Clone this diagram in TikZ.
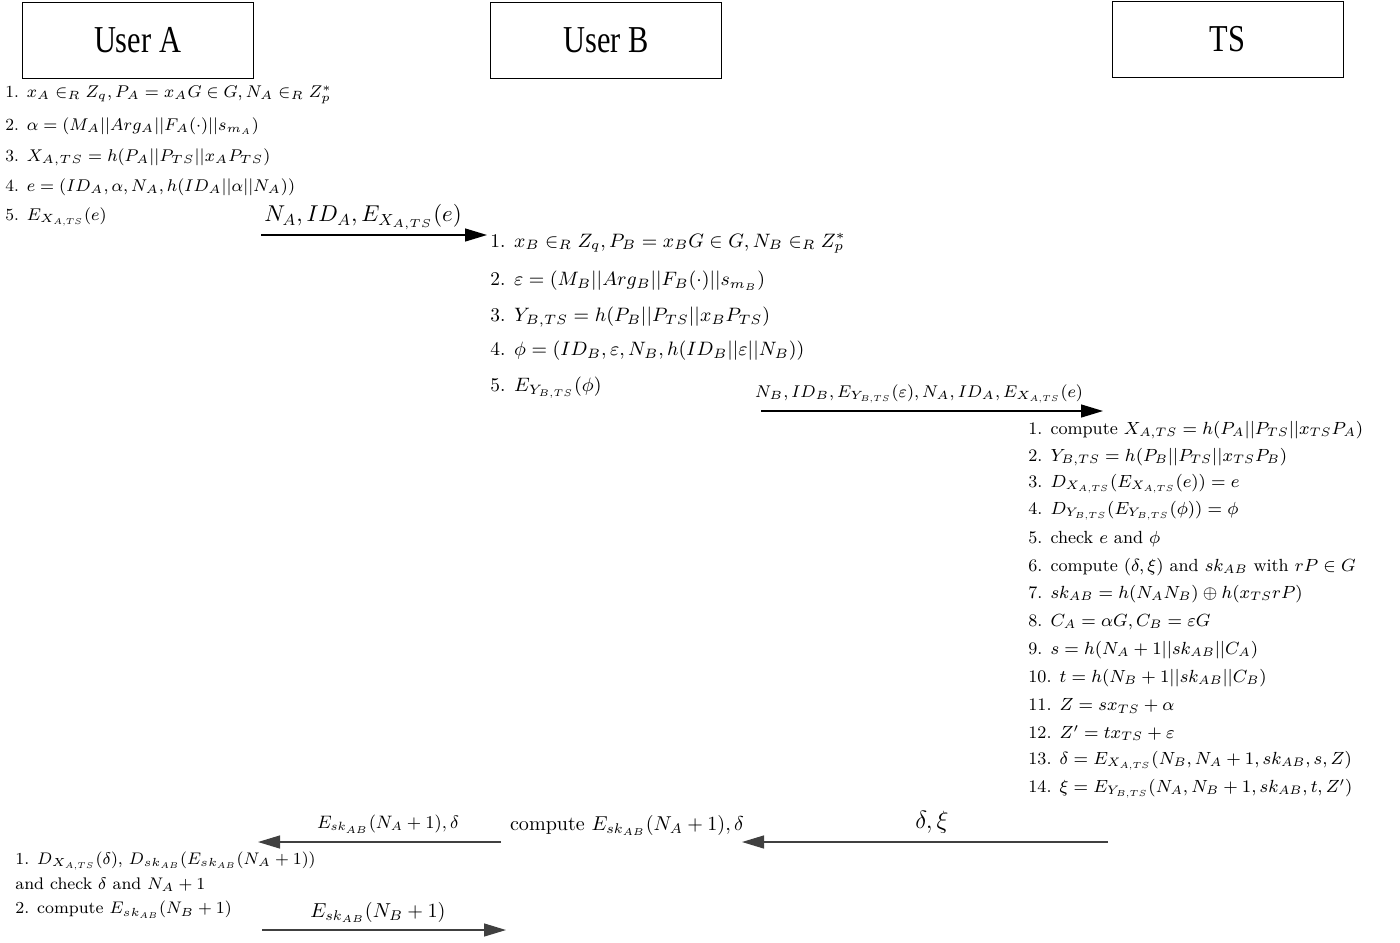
\RequirePackage{fix-cm}
\documentclass[tikz,border=0pt]{standalone}
\usepackage{fontspec}
\newfontfamily\boxfont{Liberation Serif}
\usetikzlibrary{arrows.meta}

\tikzset{
  userbox/.style={draw, minimum width=115.5pt, minimum height=38pt, inner sep=0pt},
  msg/.style={draw=black!75, line width=0.65pt, -{Triangle[length=11pt,width=6.5pt]}},
  alist/.style={anchor=west, inner sep=0pt, font=\fontsize{8.5}{10}\selectfont},
  blist/.style={anchor=west, inner sep=0pt, font=\fontsize{9.7}{12}\selectfont},
  tslist/.style={anchor=west, inner sep=0pt, font=\fontsize{8.8}{11}\selectfont},
  endlist/.style={anchor=west, inner sep=0pt, font=\fontsize{8.4}{10}\selectfont},
  msglabel/.style={inner sep=0pt, font=\fontsize{10.1}{12}\selectfont}
}
\newcommand{\boxlabel}[1]{\scalebox{0.8}[1]{\boxfont\fontsize{19}{19}\selectfont #1}}

\begin{document}
\begin{tikzpicture}[x=0.5pt,y=-0.5pt]
            \useasboundingbox (0,0) rectangle (1400,942);
            \node[userbox] (usera) at (137.5,40) {\boxlabel{User A}};
            \node[userbox] (userb) at (606,40) {\boxlabel{User B}};
            \node[userbox] (ts) at (1227.5,39) {\boxlabel{TS}};
            % user A
            \node[alist] (a1) at (5,95) {1. $x_A \in_R Z_q, P_A = x_AG \in G, N_A \in_R Z_p^*$};
            \node[alist] (a2) at (5,126) {2. $\alpha = (M_A||Arg_A||F_A(\cdot)||s_{m_A})$};
            \node[alist] (a3) at (5,157) {3. $X_{A,TS} = h(P_A||P_{TS}||x_AP_{TS})$};
            \node[alist] (a4) at (5,187) {4. $e = (ID_A, \alpha, N_A, h(ID_A||\alpha||N_A))$};
            \node[alist] (a5) at (5,217) {5. $E_{X_{A,TS}}(e)$};
            \coordinate (m1s) at (261,235);
            \coordinate (m1e) at (487,235);
            \draw[msg, draw=black] (m1s) -- (m1e);
            \node[msglabel, font=\fontsize{11.45}{14}\selectfont] (m1) at (363,217) {$N_A, ID_A, E_{X_{A,TS}}(e)$};
            % user B
            \node[blist] (b1) at (490,243) {1. $x_B \in_R Z_q, P_B = x_BG \in G, N_B \in_R Z_p^*$};
            \node[blist] (b2) at (490,281) {2. $\varepsilon = (M_B||Arg_B||F_B(\cdot)||s_{m_B})$};
            \node[blist] (b3) at (490,317) {3. $Y_{B,TS} = h(P_B||P_{TS}||x_BP_{TS})$};
            \node[blist] (b4) at (490,351) {4. $\phi = (ID_B, \varepsilon, N_B, h(ID_B||\varepsilon||N_B))$};
            \node[blist] (b5) at (490,388) {5. $E_{Y_{B,TS}}(\phi)$};
            \coordinate (m2s) at (761,411);
            \coordinate (m2e) at (1103,411);
            \draw[msg, draw=black] (m2s) -- (m2e);
            \node[msglabel, font=\fontsize{8.5}{10}\selectfont] (m2) at (919,394) {$N_B, ID_B, E_{Y_{B,TS}}(\varepsilon), N_A, ID_A, E_{X_{A,TS}}(e)$};
            % TS
            \node[tslist] (t1) at (1028,430) {1. compute $X_{A,TS} = h(P_A||P_{TS}||x_{TS}P_A)$};
            \node[tslist] (t2) at (1028,457) {2. $Y_{B,TS} = h(P_B||P_{TS}||x_{TS}P_B)$};
            \node[tslist] (t3) at (1028,484) {3. $D_{X_{A,TS}}(E_{X_{A,TS}}(e)) = e$};
            \node[tslist] (t4) at (1028,511) {4. $D_{Y_{B,TS}}(E_{Y_{B,TS}}(\phi)) = \phi$};
            \node[tslist] (t5) at (1028,539) {5. check $e$ and $\phi$};
            \node[tslist] (t6) at (1028,567) {6. compute $(\delta,\xi)$ and $sk_{AB}$ with $rP \in G$};
            \node[tslist] (t7) at (1028,594) {7. $sk_{AB} = h(N_AN_B) \oplus h(x_{TS}rP)$};
            \node[tslist] (t8) at (1028,622) {8. $C_A = \alpha G, C_B = \varepsilon G$};
            \node[tslist] (t9) at (1028,650) {9. $s = h(N_A+1||sk_{AB}||C_A)$};
            \node[tslist] (t10) at (1028,678) {10. $t = h(N_B+1||sk_{AB}||C_B)$};
            \node[tslist] (t11) at (1028,706) {11. $Z = sx_{TS} + \alpha$};
            \node[tslist] (t12) at (1028,733) {12. $Z' = tx_{TS} + \varepsilon$};
            \node[tslist] (t13) at (1028,761) {13. $\delta = E_{X_{A,TS}}(N_B, N_A+1, sk_{AB}, s, Z)$};
            \node[tslist] (t14) at (1028,789) {14. $\xi = E_{Y_{B,TS}}(N_A, N_B+1, sk_{AB}, t, Z')$};
            \coordinate (m3s) at (1108,842);
            \coordinate (m3e) at (742,842);
            \draw[msg] (m3s) -- (m3e);
            \node[msglabel, font=\fontsize{12.5}{15}\selectfont] (m3) at (932,822) {$\delta, \xi$};
            % back to A
            \node[msglabel, font=\fontsize{10.05}{12}\selectfont] (bc) at (627,825) {compute $E_{sk_{AB}}(N_A+1), \delta$};
            \coordinate (m4s) at (501,842);
            \coordinate (m4e) at (258,842);
            \draw[msg] (m4s) -- (m4e);
            \node[msglabel, font=\fontsize{9}{11}\selectfont] (m4) at (388,824) {$E_{sk_{AB}}(N_A+1), \delta$};
            \node[endlist] (e1) at (15,861) {1. $D_{X_{A,TS}}(\delta)$, $D_{sk_{AB}}(E_{sk_{AB}}(N_A+1))$};
            \node[endlist] (e2) at (15,885) {and check $\delta$ and $N_A+1$};
            \node[endlist] (e3) at (15,910) {2. compute $E_{sk_{AB}}(N_B+1)$};
            \coordinate (m5s) at (262,930);
            \coordinate (m5e) at (506,930);
            \draw[msg] (m5s) -- (m5e);
            \node[msglabel] (m5) at (378,912) {$E_{sk_{AB}}(N_B+1)$};
        \end{tikzpicture}
\end{document}
